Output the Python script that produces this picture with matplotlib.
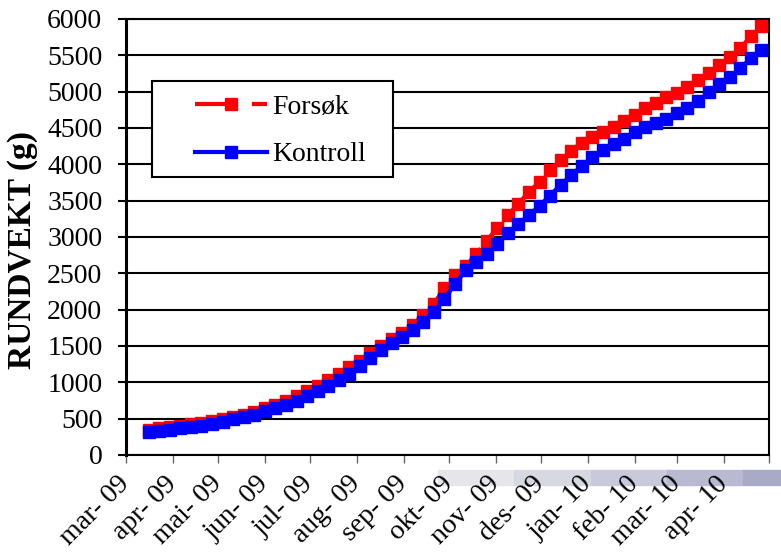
import matplotlib
matplotlib.use("Agg")
import matplotlib.pyplot as plt
from matplotlib.patches import Rectangle
import pandas as pd

plt.rcParams['font.family'] = ['Liberation Serif', 'DejaVu Serif']
plt.rcParams['lines.scale_dashes'] = False

# weekly weighings, mar 2009 - apr 2010
start = '2009-03-16'
n_weeks = 59

forsok = [350, 365, 380, 400, 420, 440, 465, 490, 520, 555,
          595, 640, 690, 745, 810, 880, 950, 1030, 1120, 1210,
          1300, 1400, 1500, 1590, 1680, 1790, 1930, 2080, 2300, 2470,
          2600, 2760, 2950, 3120, 3300, 3460, 3620, 3760, 3920, 4060,
          4190, 4300, 4380, 4450, 4520, 4600, 4680, 4770, 4850, 4930,
          4980, 5060, 5160, 5260, 5360, 5470, 5600, 5760, 5910]

kontroll = [320, 335, 350, 365, 385, 405, 425, 450, 490, 520,
            555, 600, 640, 690, 745, 810, 880, 950, 1035, 1120,
            1220, 1330, 1450, 1540, 1630, 1720, 1830, 1970, 2150, 2350,
            2540, 2650, 2760, 2900, 3060, 3180, 3300, 3430, 3570, 3720,
            3850, 3980, 4100, 4200, 4280, 4350, 4440, 4520, 4570, 4630,
            4700, 4770, 4870, 4990, 5100, 5200, 5320, 5460, 5570]

month_labels = ['mar- 09', 'apr- 09', 'mai- 09', 'jun- 09', 'jul- 09',
                'aug- 09', 'sep- 09', 'okt- 09', 'nov- 09', 'des- 09',
                'jan- 10', 'feb- 10', 'mar- 10', 'apr- 10', '']

dates = pd.date_range(start, periods=n_weeks, freq='7D')
month_ticks = pd.date_range('2009-03-01', '2010-05-01', freq='MS')

fig = plt.figure(figsize=(7.81, 5.55), dpi=100)
ax = fig.add_axes([0.1613, 0.1802, 0.8233, 0.7856])

ax.plot(dates, forsok, color='#ff0000', lw=3, marker='s', ms=8,
        linestyle=(0, (30, 11, 11, 11)), label='Forsøk', zorder=3)
ax.plot(dates, kontroll, color='#0000ff', lw=3, marker='s', ms=8,
        label='Kontroll', zorder=4)

ax.set_ylim(0, 6000)
ax.set_yticks(range(0, 6001, 500))
ax.set_xlim(month_ticks[0], month_ticks[-1])
ax.set_xticks(month_ticks)
ax.set_xticklabels(month_labels, rotation=45, ha='right', va='center',
                   rotation_mode='anchor')

ax.yaxis.grid(True, color='black', lw=1.5)
ax.set_axisbelow(True)
ax.tick_params(axis='y', length=6, width=1.5, pad=11, labelsize=20)
ax.tick_params(axis='x', length=6, width=1, color='#666666', pad=12,
               labelsize=20)
for side in ['left', 'right', 'top', 'bottom']:
    ax.spines[side].set_color('black')
ax.spines['left'].set_linewidth(2.2)
ax.spines['right'].set_linewidth(1.5)
ax.spines['top'].set_linewidth(1.5)
ax.spines['bottom'].set_linewidth(1.5)

ax.set_ylabel('RUNDVEKT (g)', fontsize=24, fontweight='bold')
ax.yaxis.set_label_coords(-0.137, 0.47)

# legend box drawn separately so the entries can sit further in
box = Rectangle((0.0404, 0.6376), 0.3748, 0.2202, transform=ax.transAxes,
                facecolor='white', edgecolor='black', lw=1.5, zorder=8)
ax.add_patch(box)
leg = ax.legend(loc='upper left', bbox_to_anchor=(0.1073, 0.8265),
                fontsize=20, frameon=False,
                handlelength=2.6, handletextpad=0.18, labelspacing=0.79,
                borderpad=0, borderaxespad=0)
leg.set_zorder(10)

# greyish strip along the bottom of the screenshot
strip = ['#e6e6ea', '#d8d8e2', '#c9c9db', '#b9b9d1', '#a9a9c8']
x0 = 438
for i, c in enumerate(strip):
    fig.patches.append(Rectangle((x0 + i * 76.3, 70), 76.3, 15,
                                 transform=None, color=c, zorder=-1))

fig.savefig('out.png', dpi=100)
